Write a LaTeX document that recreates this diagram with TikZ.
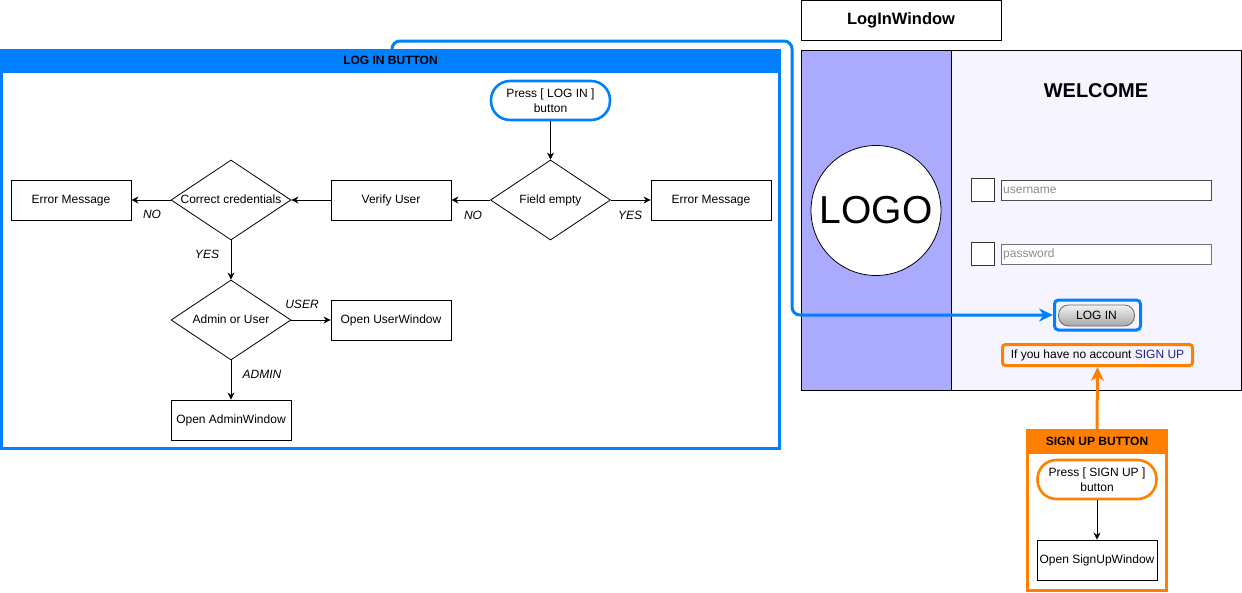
\documentclass[tikz,border=0pt]{standalone}
\usepackage{fontspec}
\setmainfont{Liberation Sans}
\usetikzlibrary{shapes.geometric,arrows.meta}
\definecolor{lblue}{HTML}{007FFF}
\definecolor{orng}{HTML}{FF8000}
\definecolor{panel}{HTML}{AAAAFF}
\definecolor{panelr}{HTML}{F6F5FF}
\definecolor{navy}{HTML}{1F1F8F}
\newcommand\fsz[2]{\fontsize{#1}{#2}\selectfont}
\tikzset{
  box/.style={draw, line width=0.8pt, fill=white, minimum width=120pt, minimum height=40pt, inner sep=0pt, text height=10pt, text depth=3pt, font=\fsz{12}{15}},
  dec/.style={draw, diamond, line width=0.8pt, fill=white, minimum width=120pt, minimum height=80pt, inner sep=0pt},
  dlbl/.style={font=\fsz{12}{14}, text height=10pt, text depth=3pt},
  term/.style={draw, line width=2.6pt, fill=white, rounded corners=19pt, minimum width=119pt, minimum height=39pt, inner sep=0pt, align=center, font=\fsz{12}{15}},
  arr/.style={-{Stealth[length=7pt,width=7pt]}, line width=0.8pt},
  lbl/.style={font=\fsz{12}{14}\itshape, inner sep=0pt},
  hdr/.style={inner sep=0pt, text height=10pt, text depth=3pt, font=\fsz{12}{14}\bfseries},
  field/.style={draw=black!70, line width=1pt, fill=white, minimum width=210pt, minimum height=20pt, inner sep=0pt, anchor=north west},
  chk/.style={draw=black!80, line width=0.9pt, fill=white, minimum size=23pt, inner sep=0pt, anchor=north west},
  ph/.style={anchor=west, inner sep=2pt, text=black!45, font=\fsz{12}{14}},
  bconn/.style={draw=lblue, line width=3pt, rounded corners=8pt, -{Stealth[length=14pt,width=13pt]}},
  oconn/.style={draw=orng, line width=3pt, -{Stealth[length=14pt,width=13pt]}},
}
\begin{document}
\begin{tikzpicture}[x=1pt,y=-1pt]
\useasboundingbox (0,0) rectangle (1242,592);

% ---------- LOG IN BUTTON container ----------
\node[draw=lblue, line width=3pt, minimum width=778pt, minimum height=398pt, inner sep=0pt] (lgc) at (390.5,249.5) {};
\node[hdr, fill=lblue, minimum width=781pt, minimum height=24pt] (lgh) at (390.5,61) {LOG IN BUTTON};

\node[term, draw=lblue] (plogin) at (550.5,100.5) {Press [ LOG IN ]\\button};
\node[dec, label={[dlbl]center:Field empty}] (fe) at (550.5,200) {};
\node[box] (err1) at (711,200) {Error Message};
\node[box] (vu) at (391,200) {Verify User};
\node[dec, label={[dlbl]center:Correct credentials}] (cc) at (231,200) {};
\node[box] (err2) at (71,200) {Error Message};
\node[dec, label={[dlbl]center:Admin or User}] (au) at (231,320) {};
\node[box] (ouw) at (391,320) {Open UserWindow};
\node[box] (oaw) at (231,420) {Open AdminWindow};

\draw[arr] (plogin) -- (fe);
\draw[arr] (fe) -- (err1);
\draw[arr] (fe) -- (vu);
\draw[arr] (vu) -- (cc);
\draw[arr] (cc) -- (err2);
\draw[arr] (cc) -- (au);
\draw[arr] (au) -- (ouw);
\draw[arr] (au) -- (oaw);

\node[lbl] (lyes1) at (630,215) {YES};
\node[lbl] (lno1) at (473,215) {NO};
\node[lbl] (lno2) at (152,214) {NO};
\node[lbl] (lyes2) at (207,254) {YES};
\node[lbl] (luser) at (302,304) {USER};
\node[lbl] (ladmin) at (262,374) {ADMIN};

% ---------- LogInWindow ----------
\node[draw, line width=0.9pt, minimum width=200pt, minimum height=40pt, inner sep=0pt, font=\fsz{16.5}{18}\bfseries] (lwt) at (901,20) {LogInWindow};
\node[draw, line width=0.9pt, fill=panel, minimum width=150pt, minimum height=340pt, inner sep=0pt, anchor=north west] (lp) at (801,50) {};
\node[draw, line width=0.9pt, fill=panelr, minimum width=290pt, minimum height=340pt, inner sep=0pt, anchor=north west] (rp) at (951,50) {};
\node[circle, draw, line width=0.8pt, fill=white, minimum size=130pt, inner sep=0pt, font=\fsz{39}{40}] (logo) at (876,210.5) {LOGO};
\node[inner sep=0pt, font=\fsz{20}{22}\bfseries] (wel) at (1096,91) {WELCOME};

\node[chk] (cb1) at (971,178) {};
\node[field] (uf) at (1001,179.5) {};
\node[ph] (uft) at (uf.west) {username};
\node[chk] (cb2) at (971,242) {};
\node[field, draw=black!55] (pf) at (1001,243.5) {};
\node[ph] (pft) at (pf.west) {password};

\node[draw=lblue, line width=3pt, rounded corners=4pt, minimum width=86pt, minimum height=30pt, inner sep=0pt] (lih) at (1097.5,315) {};
\node[draw=black!60, line width=0.8pt, rounded corners=10pt, top color=black!5, bottom color=black!35, minimum width=76pt, minimum height=21pt, inner sep=0pt, font=\fsz{12}{14}] (lib) at (1096.5,315.5) {LOG IN};

\node[draw=orng, line width=3pt, rounded corners=3pt, minimum width=190pt, minimum height=21pt, inner sep=0pt, text height=10pt, text depth=3pt, font=\fsz{12}{14}] (sut) at (1097.5,355) {If you have no account \textcolor{navy}{SIGN UP}};

% ---------- SIGN UP BUTTON container ----------
\node[draw=orng, line width=3pt, minimum width=139pt, minimum height=160pt, inner sep=0pt] (suc) at (1097,510.5) {};
\node[hdr, fill=orng, minimum width=142pt, minimum height=25pt] (suh) at (1097,441.5) {SIGN UP BUTTON};
\node[term, draw=orng] (psu) at (1097,479.5) {Press [ SIGN UP ]\\button};
\node[box] (osw) at (1097,560) {Open SignUpWindow};
\draw[arr] (psu) -- (osw);

% ---------- connectors ----------
\coordinate (bstart) at (392,49);
\draw[bconn] (bstart) |- (792,41) |- (lih.west);
\draw[oconn] (suh.north) -- (sut.south);
\end{tikzpicture}
\end{document}
